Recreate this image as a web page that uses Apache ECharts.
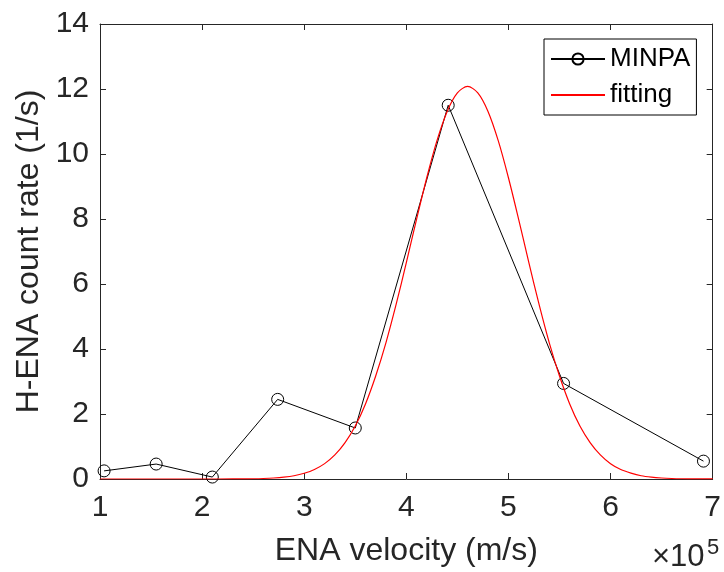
<!DOCTYPE html>
<html>
<head>
<meta charset="utf-8">
<script src="https://cdn.jsdelivr.net/npm/echarts@6/dist/echarts.min.js"></script>
<style>
html,body{margin:0;padding:0;background:#fff;}
#chart{width:724px;height:572px;}
</style>
</head>
<body>
<div id="chart"></div>
<script>
// MINPA measurements (x in units of 1e5 m/s)
const minpaX = [1.04, 1.55, 2.10, 2.74, 3.50, 4.41, 5.54, 6.91];
const minpaY = [0.25, 0.46, 0.06, 2.45, 1.57, 11.5, 2.94, 0.55];

// fitting curve
const fitX = [1.0, 1.5, 2.0, 2.3, 2.4, 2.5, 2.6, 2.7, 2.8, 2.9, 3.0, 3.1, 3.2, 3.3, 3.4, 3.5, 3.6, 3.7, 3.8, 3.9,
              4.0, 4.1, 4.2, 4.3, 4.4, 4.5, 4.6, 4.7, 4.8, 4.9, 5.0, 5.1, 5.2, 5.3, 5.4, 5.5, 5.6, 5.7, 5.8, 5.9,
              6.0, 6.1, 6.2, 6.3, 6.4, 6.5, 6.6, 6.7, 6.8, 6.9, 7.0];
const fitY = [0, 0, 0, 0.002, 0.004, 0.008, 0.016, 0.031, 0.057, 0.10, 0.176, 0.293, 0.473, 0.74, 1.12, 1.63, 2.31, 3.17, 4.19, 5.37,
              6.66, 7.99, 9.27, 10.41, 11.31, 11.88, 12.08, 11.88, 11.31, 10.41, 9.27, 7.99, 6.66, 5.37, 4.19, 3.17, 2.31, 1.63, 1.12, 0.74,
              0.47, 0.29, 0.18, 0.10, 0.057, 0.031, 0.016, 0.008, 0.004, 0.002, 0.001];

const xTickMin = 1, xTickMax = 7, xTickStep = 1;
const yTickMin = 0, yTickMax = 14, yTickStep = 2;

const axisColor = '#262626';
const font = 'Liberation Sans, Arial, Helvetica, sans-serif';

const chart = echarts.init(document.getElementById('chart'), null, {renderer: 'canvas'});

const baseX = {
  type: 'value', min: xTickMin, max: xTickMax, interval: xTickStep,
  splitLine: {show: false},
  axisLine: {show: true, onZero: false, lineStyle: {color: axisColor, width: 1}},
  axisTick: {show: true, inside: true, length: 6, lineStyle: {color: axisColor}}
};
const baseY = {
  type: 'value', min: yTickMin, max: yTickMax, interval: yTickStep,
  splitLine: {show: false},
  axisLine: {show: true, onZero: false, lineStyle: {color: axisColor, width: 1}},
  axisTick: {show: true, inside: true, length: 6, lineStyle: {color: axisColor}}
};

chart.setOption({
  animation: false,
  backgroundColor: '#fff',
  grid: {left: 100, right: 7, top: 24, bottom: 91},
  xAxis: [
    Object.assign({}, baseX, {
      position: 'bottom',
      name: 'ENA velocity (m/s)', nameLocation: 'middle', nameGap: 56,
      nameTextStyle: {fontFamily: font, fontSize: 32, color: axisColor},
      axisLabel: {show: true, margin: 14, fontFamily: font, fontSize: 30, color: axisColor}
    }),
    Object.assign({}, baseX, {position: 'top', axisLabel: {show: false}})
  ],
  yAxis: [
    Object.assign({}, baseY, {
      position: 'left',
      name: 'H-ENA count rate (1/s)', nameLocation: 'middle', nameGap: 55,
      nameTextStyle: {fontFamily: font, fontSize: 32, color: axisColor},
      axisLabel: {show: true, margin: 11, fontFamily: font, fontSize: 30, color: axisColor}
    }),
    Object.assign({}, baseY, {position: 'right', axisLabel: {show: false}})
  ],
  legend: {
    left: 544, top: 39, orient: 'vertical',
    backgroundColor: '#fff', borderColor: '#000', borderWidth: 1,
    padding: [5, 6, 5, 6], itemGap: 6, itemWidth: 54, itemHeight: 14,
    textStyle: {fontFamily: font, fontSize: 26, color: '#000', lineHeight: 30},
    data: [
      {name: 'MINPA'},
      {name: 'fitting', itemStyle: {opacity: 0}}
    ]
  },
  series: [
    {
      name: 'MINPA', type: 'line', xAxisIndex: 0, yAxisIndex: 0,
      data: minpaX.map((x, i) => [x, minpaY[i]]),
      symbol: 'circle', symbolSize: 12,
      lineStyle: {color: '#000', width: 1},
      itemStyle: {color: 'rgba(0,0,0,0)', borderColor: '#000', borderWidth: 1},
      z: 2
    },
    {
      name: 'fitting', type: 'line', xAxisIndex: 0, yAxisIndex: 0,
      data: fitX.map((x, i) => [x, fitY[i]]),
      symbol: 'none', smooth: 0.3,
      lineStyle: {color: '#ff0000', width: 1.2},
      itemStyle: {color: '#ff0000'},
      z: 3
    }
  ],
  graphic: [
    {type: 'text', left: 652, top: 542,
     style: {text: '×10', fontFamily: font, fontSize: 31, fill: axisColor}},
    {type: 'text', left: 707, top: 537,
     style: {text: '5', fontFamily: font, fontSize: 22, fill: axisColor}}
  ]
});
</script>
</body>
</html>
